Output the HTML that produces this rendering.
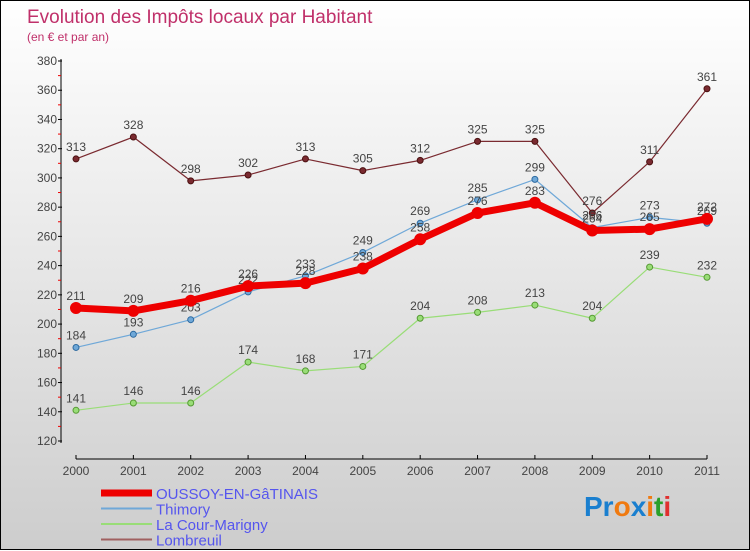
<!DOCTYPE html>
<html><head><meta charset="utf-8"><style>
body{margin:0;}
#c{width:748px;height:548px;border:1px solid #000;background:linear-gradient(#ffffff,#cdcdcd);position:relative;font-family:"Liberation Sans",sans-serif;}
svg{position:absolute;left:0;top:0;}
</style></head><body>
<div id="c">
<svg id="s" width="750" height="550">
<text x="26" y="22" font-size="19" fill="#c0306a">Evolution des Impôts locaux par Habitant</text>
<text x="26" y="40" font-size="12" fill="#c0306a">(en € et par an)</text>
</svg>
</div>
<script>
const years=["2000","2001","2002","2003","2004","2005","2006","2007","2008","2009","2010","2011"];
const yTicks=[120,140,160,180,200,220,240,260,280,300,320,340,360,380];
const oussoy=[211,209,216,226,228,238,258,276,283,264,265,272];
const thimory=[184,193,203,222,233,249,269,285,299,266,273,269];
const lacour=[141,146,146,174,168,171,204,208,213,204,239,232];
const lombreuil=[313,328,298,302,313,305,312,325,325,276,311,361];
const svg=document.getElementById('s');const NS='http://www.w3.org/2000/svg';
function X(i){return 75+i*(706-75)/11;}
function Y(v){return 440-(v-120)*380/260;}
function el(t,a,p){const e=document.createElementNS(NS,t);for(const k in a)e.setAttribute(k,a[k]);(p||svg).appendChild(e);return e;}
// axes
let ya=el('line',{x1:60,y1:58,x2:60,y2:442,stroke:'#000','stroke-width':1});

let xa=el('line',{x1:75,y1:458,x2:706,y2:458,stroke:'#000','stroke-width':1});

yTicks.forEach((v,k)=>{
  el('line',{x1:57,y1:Y(v),x2:61,y2:Y(v),stroke:'#000'});
  if(k<yTicks.length-1)el('line',{x1:57,y1:Y(v+10),x2:60,y2:Y(v+10),stroke:'#e00'});
  const t=el('text',{x:56,y:Y(v)+4,'font-size':12,fill:'#444','text-anchor':'end'});t.textContent=v;
  
});
years.forEach((y,i)=>{
  el('line',{x1:X(i),y1:454,x2:X(i),y2:458,stroke:'#000'});
  const t=el('text',{x:X(i),y:474,'font-size':12,fill:'#444','text-anchor':'middle'});t.textContent=y;
  
});
function series(d,col,w,r,name,lc){
  const g=el('g',{});
  el('polyline',{points:d.map((v,i)=>X(i)+','+Y(v)).join(' '),fill:'none',stroke:col,'stroke-width':w,'stroke-linejoin':'round'},g);
  d.forEach((v,i)=>{
    const c=el('circle',{cx:X(i),cy:Y(v),r:r,fill:col,stroke:lc,'stroke-width':1},g);
    
    const t=el('text',{x:X(i),y:Y(v)-8,'font-size':12,fill:'#444','text-anchor':'middle'},g);t.textContent=v;
    
  });
}
series(lombreuil,'#7a2a30',1.2,3,'lombreuil','#4a1010');
series(lacour,'#99dd77',1.2,3,'la-cour-marigny','#559933');
series(thimory,'#6fa8d8',1.2,3,'thimory','#2d6aa0');
series(oussoy,'#ee0000',7,5.5,'oussoy','#ee0000');
// legend
const leg=[['OUSSOY-EN-GâTINAIS','#ee0000',7],['Thimory','#6fa8d8',2],['La Cour-Marigny','#99dd77',2],['Lombreuil','#a06060',2]];
leg.forEach((l,k)=>{
  const g=el('g',{});
  const y=492+k*15.5;
  el('line',{x1:100,y1:y,x2:151,y2:y,stroke:l[1],'stroke-width':l[2]},g);
  const t=el('text',{x:155,y:y+6,'font-size':15,fill:'#5555ee'},g);t.textContent=l[0];
});
const p=el('text',{x:583,y:515,'font-size':28,'font-weight':'bold'});

[['Pr','#1a7fcf'],['o','#f07a10'],['x','#1a7fcf'],['i','#f07a10'],['t','#2aa02a'],['i','#e03030']].forEach(s=>{const ts=el('tspan',{fill:s[1]},p);ts.textContent=s[0];});
</script>
</body></html>
